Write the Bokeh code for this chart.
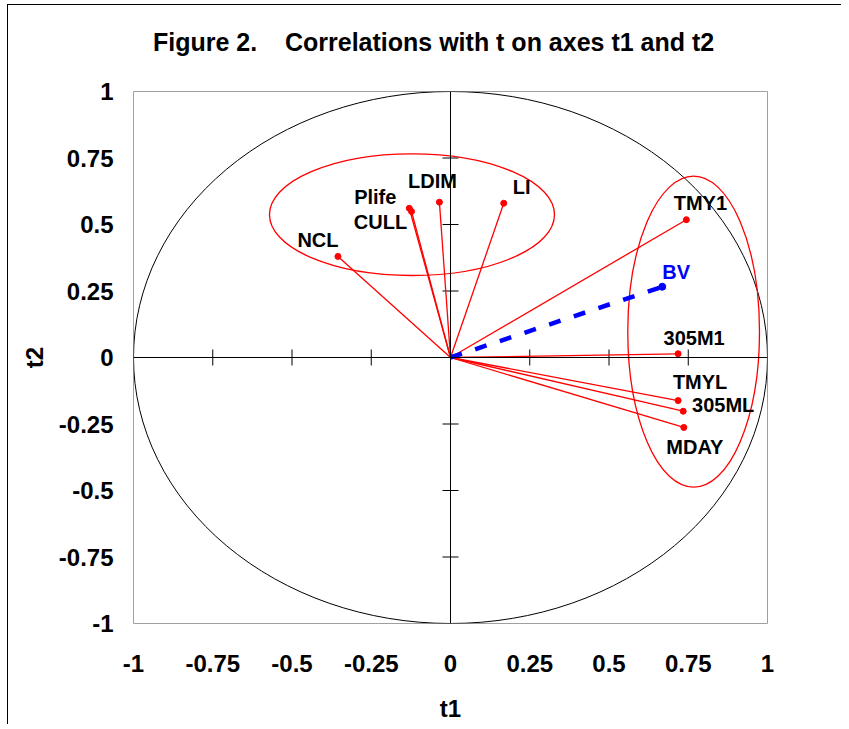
import numpy as np
from bokeh.plotting import figure
from bokeh.models import ColumnDataSource, FixedTicker, Span, Div
from bokeh.layouts import column
from bokeh.core.properties import value
from bokeh.embed import file_html
from bokeh.resources import INLINE

# ---------------- data ----------------
variables = ["NCL", "Plife", "CULL", "LDIM", "LI", "TMY1", "305M1", "TMYL", "305ML", "MDAY"]
t1_corr = [-0.355, -0.130, -0.123, -0.035, 0.168, 0.744, 0.718, 0.718, 0.734, 0.736]
t2_corr = [0.380, 0.561, 0.549, 0.584, 0.580, 0.518, 0.014, -0.162, -0.202, -0.263]

bv_name = ["BV"]
bv_t1 = [0.668]
bv_t2 = [0.266]

# groups circled by ellipses (centre, width, height in t1/t2 units)
group_t1 = [-0.1215, 0.767]
group_t2 = [0.537, 0.097]
group_w = [0.899, 0.4155]
group_h = [0.4575, 1.169]

tick_values = [-1, -0.75, -0.5, -0.25, 0, 0.25, 0.5, 0.75, 1]
tick_labels = ["-1", "-0.75", "-0.5", "-0.25", "0", "0.25", "0.5", "0.75", "1"]

title_text = "Figure 2.    Correlations with t on axes t1 and t2"

# ---------------- label placement (pixels) ----------------
label_dx = [-20, -34, -31, -7, 18, 14, 16, 22, 40, 11]
label_dy = [-16, -11, 11, -21, -16, -17, -16, -19, -6, 20]

FONT = "Liberation Sans"

p = figure(frame_width=634, frame_height=532, x_range=(-1, 1), y_range=(-1, 1),
           output_backend="svg", toolbar_location=None,
           min_border_left=133, min_border_right=74,
           min_border_top=31, min_border_bottom=90)
p.outline_line_color = "#a0a0a0"
p.outline_line_width = 1
p.grid.visible = False
p.background_fill_color = "white"
p.border_fill_color = None

overrides = {float(v): l for v, l in zip(tick_values, tick_labels)}
for ax in (p.xaxis[0], p.yaxis[0]):
    ax.ticker = FixedTicker(ticks=tick_values)
    ax.major_label_overrides = overrides
    ax.axis_line_color = None
    ax.major_tick_line_color = None
    ax.minor_tick_line_color = None
    ax.major_tick_out = 0
    ax.major_tick_in = 0
    ax.major_label_text_font = FONT
    ax.major_label_text_font_style = "bold"
    ax.major_label_text_font_size = "24px"
    ax.major_label_text_color = "black"
    ax.axis_label_text_font = FONT
    ax.axis_label_text_font_style = "bold"
    ax.axis_label_text_font_size = "24px"
    ax.axis_label_text_color = "black"

p.xaxis.axis_label = "t1"
p.yaxis.axis_label = "t2"
p.xaxis.major_label_standoff = 31
p.yaxis.major_label_standoff = 20
p.xaxis.axis_label_standoff = 20
p.yaxis.axis_label_standoff = 8

# unit circle
p.ellipse(x=0, y=0, width=2, height=2, fill_color=None, line_color="black", line_width=1)

# central axes
p.add_layout(Span(location=0, dimension="width", line_color="black", line_width=1))
p.add_layout(Span(location=0, dimension="height", line_color="black", line_width=1))
inner_ticks = [v for v in tick_values if v not in (-1, 0, 1)]
p.scatter(x=inner_ticks, y=[0] * len(inner_ticks), marker="dash", angle=np.pi / 2,
          size=16, line_color="black", line_width=1)
p.scatter(x=[0] * len(inner_ticks), y=inner_ticks, marker="dash",
          size=16, line_color="black", line_width=1)

# group ellipses
p.ellipse(x=group_t1, y=group_t2, width=group_w, height=group_h,
          fill_color=None, line_color="red", line_width=1.3)

src = ColumnDataSource(dict(x=t1_corr, y=t2_corr, name=variables,
                            dx=label_dx, dy=label_dy,
                            x0=[0] * len(variables), y0=[0] * len(variables)))
p.segment(x0="x0", y0="y0", x1="x", y1="y", source=src, line_color="red", line_width=1.3)
p.scatter(x="x", y="y", source=src, size=6, color="red")
p.text(x="x", y="y", text="name", x_offset="dx", y_offset="dy", source=src,
       text_align="center", text_baseline="middle", text_font=value(FONT),
       text_font_style="bold", text_font_size="20px", text_color="black")

# BV vector
p.line(x=[0] + bv_t1, y=[0] + bv_t2, line_color="blue", line_width=4.5, line_dash="12 14")
p.scatter(x=bv_t1, y=bv_t2, size=7, color="blue")
p.text(x=bv_t1, y=bv_t2, text=bv_name, x_offset=14, y_offset=-15,
       text_align="center", text_baseline="middle", text_font=value(FONT),
       text_font_style="bold", text_font_size="20px", text_color="blue")

# title
title = Div(text=title_text, render_as_text=True, width=841, height=60,
            styles={"font-family": FONT, "font-size": "25px", "font-weight": "bold",
                    "white-space": "pre", "line-height": "84px", "text-indent": "153px",
                    "color": "black", "margin": "0", "padding": "0", "overflow": "visible"})

layout = column(title, p, spacing=0,
                styles={"box-shadow": "inset 7px 4px 0 0 white, inset 8px 5px 0 0 black"})

open("out.html", "w").write(file_html(layout, INLINE))
